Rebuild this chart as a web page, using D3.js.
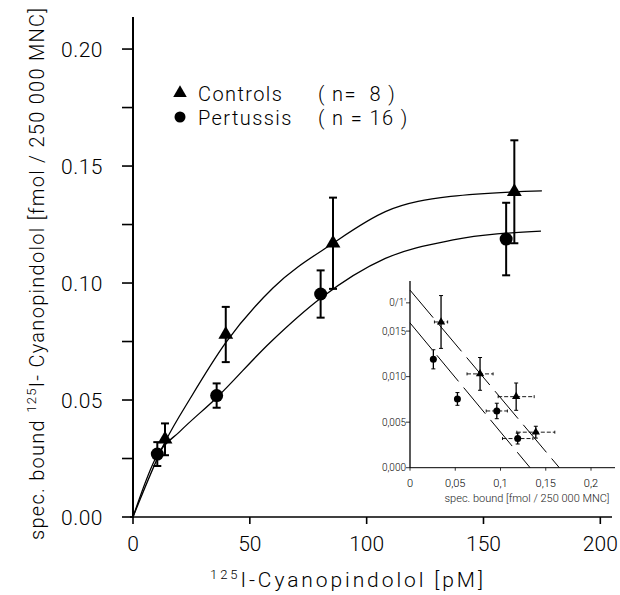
<!DOCTYPE html>
<html>
<head>
<meta charset="utf-8">
<script src="https://cdn.jsdelivr.net/npm/d3@7"></script>
<style>
  body { margin: 0; background: #fff; }
  svg { font-family: Roboto, "Liberation Sans", sans-serif; font-weight: 300; }
</style>
</head>
<body>
<svg id="chart" width="620" height="595"></svg>
<script>
// main saturation data (pM vs fmol/250 000 MNC)
const concControls = [13.7, 39.7, 85.6, 163.2]
const boundControls = [0.0332, 0.078, 0.117, 0.139]
const semControls = [0.0068, 0.0118, 0.0195, 0.022]

const concPertussis = [10.4, 35.8, 80.3, 159.7]
const boundPertussis = [0.0269, 0.0519, 0.0953, 0.1188]
const semPertussis = [0.0051, 0.0052, 0.0101, 0.0155]

// fitted curves
const fitControlsX = [0, 13.7, 25, 39.7, 60, 85.6, 108, 136, 175]
const fitControlsY = [0, 0.032, 0.0515, 0.0745, 0.098, 0.117, 0.1305, 0.137, 0.1394]
const fitPertussisX = [0, 10.4, 20, 35.8, 58.6, 80.3, 108, 137, 174.6]
const fitPertussisY = [0, 0.0265, 0.0365, 0.051, 0.0745, 0.0935, 0.1105, 0.1184, 0.1222]

// inset (scatchard)
const scatXControls = [0.0343, 0.0774, 0.1173, 0.139]
const scatYControls = [0.016, 0.0103, 0.0078, 0.0039]
const scatXErrControls = [0.0073, 0.0144, 0.0199, 0.021]
const scatYErrControls = [0.0029, 0.0018, 0.0015, 0.00065]

const scatXPertussis = [0.0258, 0.0524, 0.0959, 0.119]
const scatYPertussis = [0.0119, 0.00755, 0.00623, 0.0032]
const scatXErrPertussis = [0.002, 0, 0.0117, 0.0168]
const scatYErrPertussis = [0.00105, 0.0007, 0.00085, 0.0006]

const scatLineControls = [[0, 0.0195], [0.165, 0]]
const scatLinePertussis = [[0, 0.0159], [0.1327, 0]]

const xTicks = [0, 50, 100, 150, 200]
const yTicks = [0, 0.05, 0.10, 0.15, 0.20]
const yMinorTicks = [0.025, 0.075, 0.125, 0.175]
const insetXTicks = [0, 0.05, 0.1, 0.15, 0.2]
const insetXLabels = ['0', '0,05', '0,1', '0,15', '0,2']
const insetYTicks = [0, 0.005, 0.010, 0.015, 0.0181]
const insetYLabels = ['0,000', '0,005', '0,010', '0,015', '0/1\'']

const svg = d3.select('#chart')

const x = d3.scaleLinear().domain([0, 205]).range([133, 612])
const y = d3.scaleLinear().domain([0, 0.2137]).range([517, 17])

const ix = d3.scaleLinear().domain([0, 0.2265]).range([410, 615])
const iy = d3.scaleLinear().domain([0, 0.0205]).range([467.7, 281])

// ---- main axes
svg.append('line')
  .attr('x1', x(0)).attr('x2', x(0))
  .attr('y1', y(0) + 1).attr('y2', y.range()[1])
  .attr('stroke', '#000').attr('stroke-width', 2)
svg.append('line')
  .attr('x1', x(0) - 3).attr('x2', x.range()[1])
  .attr('y1', y(0)).attr('y2', y(0))
  .attr('stroke', '#000').attr('stroke-width', 1.6)

svg.selectAll('.ytick').data(yTicks.concat(yMinorTicks)).enter().append('line')
  .attr('x1', x(0) - 11).attr('x2', x(0))
  .attr('y1', d => y(d)).attr('y2', d => y(d))
  .attr('stroke', '#000').attr('stroke-width', 1.6)

svg.selectAll('.xtick').data(xTicks).enter().append('line')
  .attr('x1', d => x(d)).attr('x2', d => x(d))
  .attr('y1', y(0)).attr('y2', y(0) + 7)
  .attr('stroke', '#000').attr('stroke-width', 1.6)

svg.selectAll('.ylab').data(yTicks).enter().append('text')
  .attr('x', 103).attr('y', d => y(d) + 8)
  .attr('text-anchor', 'end')
  .attr('font-size', 21).attr('letter-spacing', 0.5)
  .text(d => d3.format('.2f')(d))

svg.selectAll('.xlab').data(xTicks).enter().append('text')
  .attr('x', d => x(d)).attr('y', 551)
  .attr('text-anchor', 'middle')
  .attr('font-size', 21)
  .text(d => d)

// axis titles
const xt = svg.append('text')
  .attr('x', 210).attr('y', 587)
  .attr('font-size', 21)
  .attr('textLength', 273).attr('lengthAdjust', 'spacing')
xt.append('tspan').attr('font-size', 13).attr('dy', -8).text('125')
xt.append('tspan').attr('dy', 8).text('I-Cyanopindolol   [pM]')

const yt = svg.append('text')
  .attr('transform', 'translate(44,540) rotate(-90)')
  .attr('font-size', 20)
  .attr('textLength', 532).attr('lengthAdjust', 'spacing')
yt.append('tspan').text('spec. bound ')
yt.append('tspan').attr('font-size', 13).attr('dy', -8).text('125')
yt.append('tspan').attr('dy', 8).text('I- Cyanopindolol   [fmol / 250 000 MNC]')

// ---- fitted curves
const line = d3.line().x(d => x(d[0])).y(d => y(d[1])).curve(d3.curveMonotoneX)
svg.append('path')
  .attr('d', line(d3.zip(fitControlsX, fitControlsY)))
  .attr('fill', 'none').attr('stroke', '#000').attr('stroke-width', 1.3)
svg.append('path')
  .attr('d', line(d3.zip(fitPertussisX, fitPertussisY)))
  .attr('fill', 'none').attr('stroke', '#000').attr('stroke-width', 1.3)

// error bars
function errorBars(xs, ys, es, sx, sy, cap, w) {
  const g = svg.append('g').attr('stroke', '#000').attr('stroke-width', w)
  xs.forEach((xv, i) => {
    const px = sx(xv)
    const top = sy(ys[i] + es[i])
    const bot = sy(ys[i] - es[i])
    g.append('line').attr('x1', px).attr('x2', px).attr('y1', top).attr('y2', bot)
    g.append('line').attr('x1', px - cap).attr('x2', px + cap).attr('y1', top).attr('y2', top)
    g.append('line').attr('x1', px - cap).attr('x2', px + cap).attr('y1', bot).attr('y2', bot)
  })
}
errorBars(concControls, boundControls, semControls, x, y, 4, 2)
errorBars(concPertussis, boundPertussis, semPertussis, x, y, 4, 2)

const tri = d3.symbol().type(d3.symbolTriangle)
svg.selectAll('.ctl').data(concControls).enter().append('path')
  .attr('d', tri.size(95)())
  .attr('transform', (d, i) => `translate(${x(d)},${y(boundControls[i])})`)
svg.selectAll('.per').data(concPertussis).enter().append('circle')
  .attr('cx', d => x(d)).attr('cy', (d, i) => y(boundPertussis[i]))
  .attr('r', 6.5)

// legend
const legend = svg.append('g').attr('font-size', 20).attr('letter-spacing', 1.4)
legend.append('path').attr('d', tri.size(80)()).attr('transform', 'translate(180,93)')
legend.append('circle').attr('cx', 180).attr('cy', 117).attr('r', 5.5)
legend.append('text').attr('x', 198).attr('y', 101).text('Controls')
legend.append('text').attr('x', 318).attr('y', 101).attr('xml:space', 'preserve').text('( n=  8 )')
legend.append('text').attr('x', 198).attr('y', 125).text('Pertussis')
legend.append('text').attr('x', 318).attr('y', 125).text('( n = 16 )')

// ---- inset
svg.append('line')
  .attr('x1', ix(0)).attr('x2', ix(0)).attr('y1', iy(0)).attr('y2', iy.range()[1])
  .attr('stroke', '#000').attr('stroke-width', 1.3)
svg.append('line')
  .attr('x1', ix(0)).attr('x2', ix.range()[1]).attr('y1', iy(0)).attr('y2', iy(0))
  .attr('stroke', '#000').attr('stroke-width', 1)

svg.selectAll('.iytick').data(insetYTicks).enter().append('line')
  .attr('x1', ix(0) - 4).attr('x2', ix(0))
  .attr('y1', d => iy(d)).attr('y2', d => iy(d))
  .attr('stroke', '#000').attr('stroke-width', 0.8)
svg.selectAll('.iylab').data(insetYTicks).enter().append('text')
  .attr('x', ix(0) - 4).attr('y', d => iy(d) + 3.5)
  .attr('text-anchor', 'end').attr('font-size', 10)
  .text((d, i) => insetYLabels[i])

svg.selectAll('.ixtick').data(insetXTicks).enter().append('line')
  .attr('x1', d => ix(d)).attr('x2', d => ix(d))
  .attr('y1', iy(0)).attr('y2', iy(0) + 3)
  .attr('stroke', '#000').attr('stroke-width', 0.8)
svg.selectAll('.ixlab').data(insetXTicks).enter().append('text')
  .attr('x', d => ix(d)).attr('y', 487)
  .attr('text-anchor', 'middle').attr('font-size', 11)
  .text((d, i) => insetXLabels[i])
svg.append('text')
  .attr('x', 527).attr('y', 502).attr('text-anchor', 'middle')
  .attr('font-size', 11).attr('fill', '#222')
  .text('spec. bound [fmol / 250 000 MNC]')

const iline = d3.line().x(d => ix(d[0])).y(d => iy(d[1]))
svg.append('path').attr('d', iline(scatLineControls))
  .attr('fill', 'none').attr('stroke', '#000').attr('stroke-width', 1).attr('stroke-dasharray', '36 8')
svg.append('path').attr('d', iline(scatLinePertussis))
  .attr('fill', 'none').attr('stroke', '#000').attr('stroke-width', 1).attr('stroke-dasharray', '34 8')

function insetPoints(xs, ys, xe, ye) {
  const g = svg.append('g').attr('stroke', '#000')
  xs.forEach((xv, i) => {
    const px = ix(xv), py = iy(ys[i])
    const t = iy(ys[i] + ye[i]), b = iy(ys[i] - ye[i])
    g.append('line').attr('x1', px).attr('x2', px).attr('y1', t).attr('y2', b).attr('stroke-width', 1.3)
    g.append('line').attr('x1', px - 2).attr('x2', px + 2).attr('y1', t).attr('y2', t).attr('stroke-width', 1)
    g.append('line').attr('x1', px - 2).attr('x2', px + 2).attr('y1', b).attr('y2', b).attr('stroke-width', 1)
    if (xe[i] > 0) {
      const l = ix(xv - xe[i]), r = ix(xv + xe[i])
      g.append('line').attr('x1', l).attr('x2', r).attr('y1', py).attr('y2', py)
        .attr('stroke-width', 0.9).attr('stroke-dasharray', '4 2')
      g.append('line').attr('x1', l).attr('x2', l).attr('y1', py - 1.5).attr('y2', py + 1.5).attr('stroke-width', 0.9)
      g.append('line').attr('x1', r).attr('x2', r).attr('y1', py - 1.5).attr('y2', py + 1.5).attr('stroke-width', 0.9)
    }
  })
}
insetPoints(scatXControls, scatYControls, scatXErrControls, scatYErrControls)
insetPoints(scatXPertussis, scatYPertussis, scatXErrPertussis, scatYErrPertussis)

svg.selectAll('.ictl').data(scatXControls).enter().append('path')
  .attr('d', tri.size(30)())
  .attr('transform', (d, i) => `translate(${ix(d)},${iy(scatYControls[i])})`)
svg.selectAll('.iper').data(scatXPertussis).enter().append('circle')
  .attr('cx', d => ix(d)).attr('cy', (d, i) => iy(scatYPertussis[i]))
  .attr('r', 3.5)
</script>
</body>
</html>
